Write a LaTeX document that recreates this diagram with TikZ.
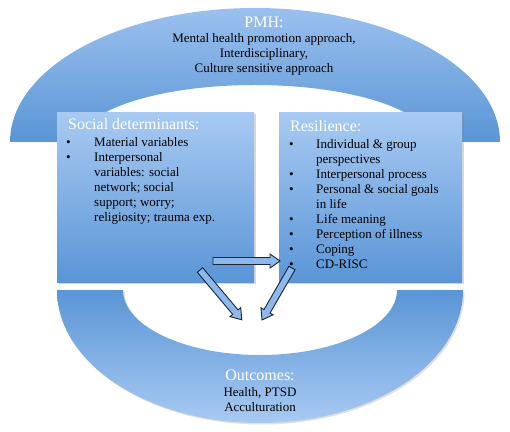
\documentclass[tikz,border=0pt]{standalone}
\usepackage{fontspec}
\setmainfont{Liberation Serif}
\usetikzlibrary{shadows,calc}
\definecolor{blight}{HTML}{A8CAF2}
\definecolor{bdark}{HTML}{5A95D6}
\definecolor{archtop}{HTML}{9BC0EE}
\definecolor{afill}{HTML}{8DB8EC}
\definecolor{aline}{HTML}{1C2634}
\newcommand\blockarrow[3]{%
  \draw[barrow, shift={(#1)}, rotate=#2]
    (0,-3.5) -- ({#3-10},-3.5) -- ({#3-10},-7) -- (#3,0) -- ({#3-10},7) -- ({#3-10},3.5) -- (0,3.5) -- cycle;}
\begin{document}
\begin{tikzpicture}[x=1pt,y=1pt,
  txt/.style={anchor=base west, inner sep=0pt, font=\fontsize{13}{15}\selectfont},
  ctr/.style={anchor=base, inner sep=0pt, font=\fontsize{13}{15}\selectfont},
  ttl/.style={inner sep=0pt, text=white, font=\fontsize{16}{18}\selectfont},
  boxstyle/.style={draw=none, inner sep=0pt, anchor=north west, top color=blight, bottom color=bdark,
     drop shadow={opacity=0.3, shadow xshift=1.5pt, shadow yshift=-1.5pt}},
  barrow/.style={draw=aline, fill=afill, line width=0.9pt, line join=miter}]
\fill[white] (0,0) rectangle (510,431);
\useasboundingbox (0,0) rectangle (510,431);
% top arch (PMH)
\shade[top color=archtop, bottom color=bdark]
  (10,289) arc[start angle=180, end angle=0, x radius=245, y radius=134]
  -- (430,289) arc[start angle=0, end angle=180, x radius=175, y radius=57] -- cycle;
% bottom bowl (Outcomes)
\fill[gray, opacity=0.25]
  (58.5,139.5) arc[start angle=180, end angle=360, x radius=203, y radius=133]
  -- (398.5,139.5) arc[start angle=0, end angle=-180, x radius=137, y radius=65] -- cycle;
\shade[top color=bdark, bottom color=blight]
  (57,141) arc[start angle=180, end angle=360, x radius=203, y radius=133]
  -- (397,141) arc[start angle=0, end angle=-180, x radius=137, y radius=65] -- cycle;
% boxes
\node[boxstyle, minimum width=197pt, minimum height=170pt] (sdbox) at (57,319) {};
\node[boxstyle, minimum width=183pt, minimum height=170pt] (rsbox) at (279,319) {};
% PMH texts
\node[ttl, anchor=base] (pmh) at (264,403.5) {PMH:};
\node[ctr] (pmh1) at (264,388.5) {Mental health promotion approach,};
\node[ctr] (pmh2) at (264,373.5) {Interdisciplinary,};
\node[ctr] (pmh3) at (264,358.5) {Culture sensitive approach};
% social determinants
\node[ttl, anchor=base west] (sdt) at (68,301) {Social determinants:};
\node[txt] (sdb1) at (66,284.5) {•};
\node[txt] (sd1) at (94,284.5) {Material variables};
\node[txt] (sdb2) at (66,269.5) {•};
\node[txt] (sd2) at (94,269.5) {Interpersonal};
\node[txt] (sd3) at (94,254.5) {variables: social};
\node[txt] (sd4) at (94,239.5) {network; social};
\node[txt] (sd5) at (94,224.5) {support; worry;};
\node[txt] (sd6) at (94,209.5) {religiosity; trauma exp.};
% resilience
\node[ttl, anchor=base west] (rst) at (290,299) {Resilience:};
\node[txt] (rb1) at (289,282.5) {•};
\node[txt] (r1) at (316,282.5) {Individual \& group};
\node[txt] (r2) at (316,267.5) {perspectives};
\node[txt] (rb3) at (289,252.5) {•};
\node[txt] (r3) at (316,252.5) {Interpersonal process};
\node[txt] (rb4) at (289,237.5) {•};
\node[txt] (r4) at (316,237.5) {Personal \& social goals};
\node[txt] (r5) at (316,222.5) {in life};
\node[txt] (rb6) at (289,207.5) {•};
\node[txt] (r6) at (316,207.5) {Life meaning};
\node[txt] (rb7) at (289,192.5) {•};
\node[txt] (r7) at (316,192.5) {Perception of illness};
\node[txt] (rb8) at (289,177.5) {•};
\node[txt] (r8) at (316,177.5) {Coping};
\node[txt] (rb9) at (289,162.5) {•};
\node[txt] (r9) at (316,162.5) {CD-RISC};
% outcomes
\node[ttl, anchor=base] (oct) at (260,51) {Outcomes:};
\node[ctr] (oc1) at (260,34.5) {Health, PTSD};
\node[ctr] (oc2) at (260,19.5) {Acculturation};
% block arrows
\coordinate (ha) at (213,170);
\coordinate (da) at (200,161);
\coordinate (ea) at (292,163);
\blockarrow{ha}{0}{67}
\blockarrow{da}{-50}{65}
\blockarrow{ea}{-120}{60}
\end{tikzpicture}
\end{document}
